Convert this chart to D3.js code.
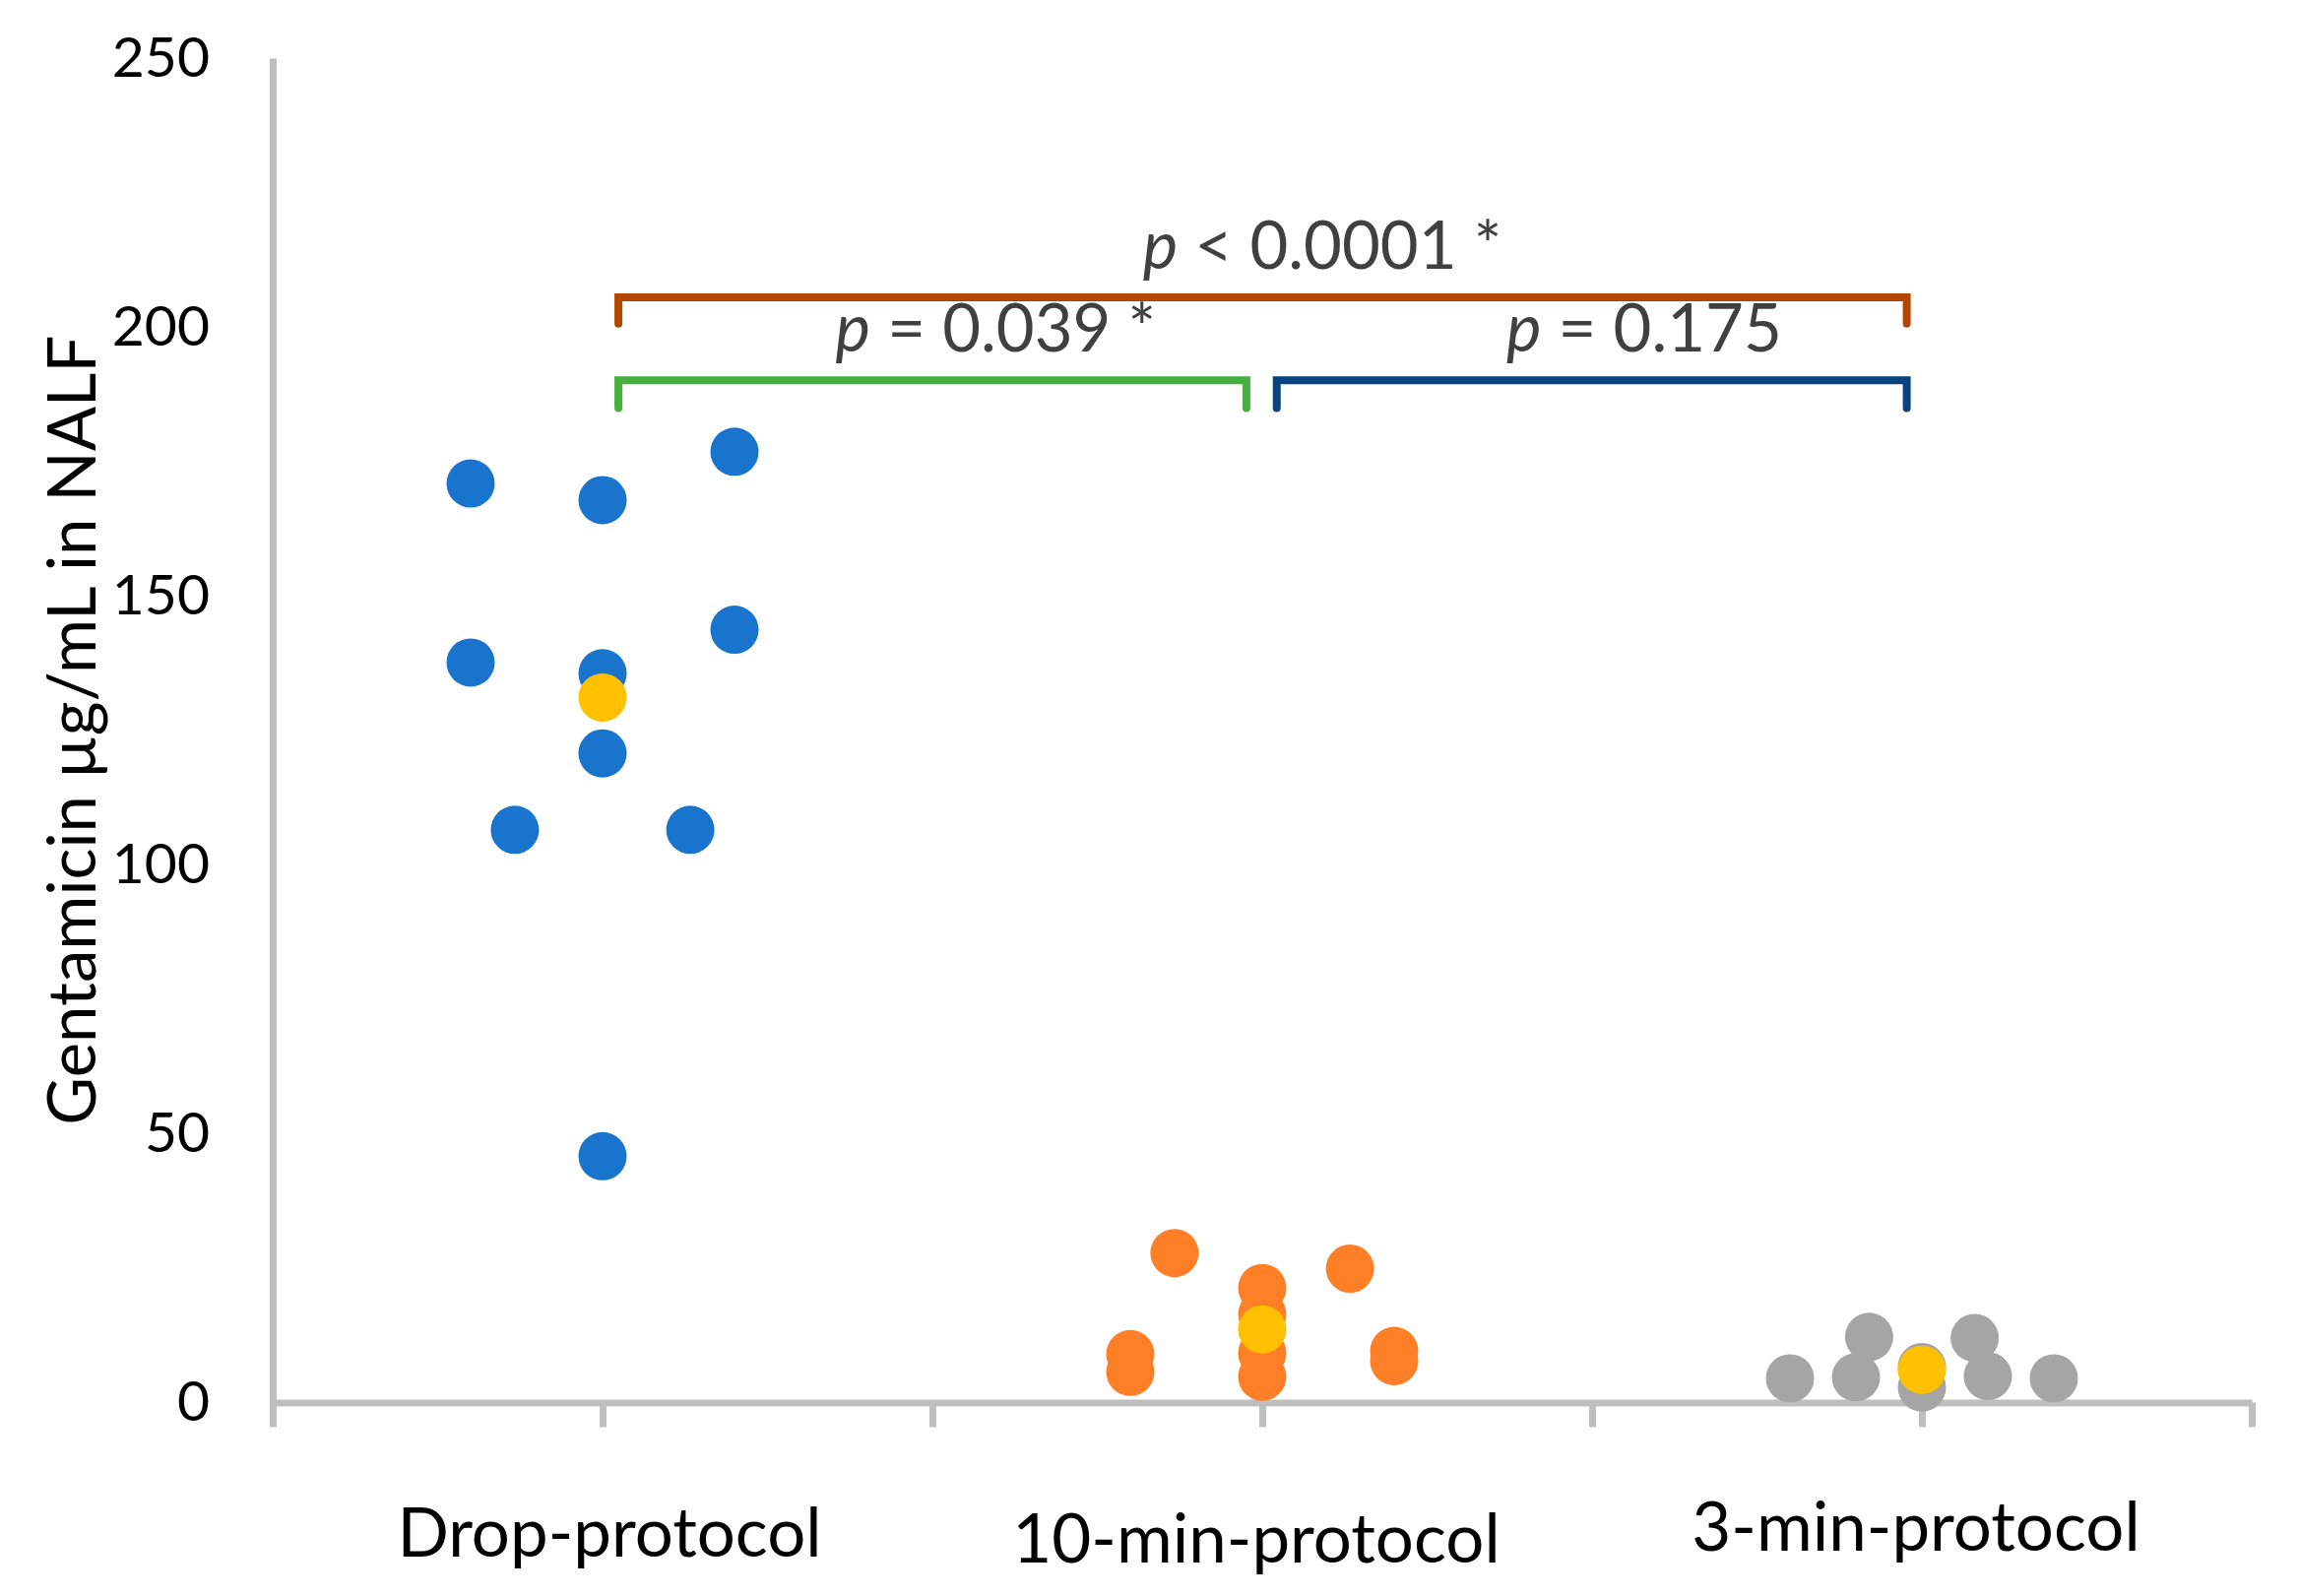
<!DOCTYPE html>
<html>
<head>
<meta charset="utf-8">
<script src="https://cdn.jsdelivr.net/npm/d3@7"></script>
<style>
  html, body { margin: 0; padding: 0; background: #fff; }
  svg { display: block; font-family: Lato, "Open Sans", sans-serif; }
</style>
</head>
<body>
<svg id="chart" width="2335" height="1621"></svg>
<script>
// ---------------- data ----------------
const categories = ["Drop-protocol", "10-min-protocol", "3-min-protocol"];
const yTicks = [0, 50, 100, 150, 200, 250];
const xTicks = [0.5, 1, 1.5, 2, 2.5, 3, 3.5];

// Drop-protocol (category 1)
const dropOffsets = [0.2, -0.2, 0, 0.2, -0.2, 0, 0, -0.133, 0.133, 0];
const dropValues  = [176.8, 170.9, 167.8, 143.7, 137.6, 135.6, 120.7, 106.5, 106.5, 45.8];

// 10-min-protocol (category 2)
const tenOffsets = [-0.133, 0, 0.133, -0.2, -0.2, 0, 0, 0, 0.2, 0.2];
const tenValues  = [27.8, 21.3, 24.9, 9.0, 5.7, 16.4, 9.2, 4.8, 9.6, 7.7];

// 3-min-protocol (category 3)
const threeOffsets = [-0.2, -0.08, -0.1, 0, 0, 0.08, 0.1, 0.2];
const threeValues  = [4.5, 12.2, 4.7, 6.6, 2.8, 12.0, 4.9, 4.5];

// highlighted (yellow) animal, one per protocol
const highlightCategories = [1, 2, 3];
const highlightValues = [131.1, 13.6, 6.1];

// significance brackets (x in category units, y in µg/mL)
const bracketX1 = [1.024, 1.024, 2.022];
const bracketX2 = [2.977, 1.976, 2.977];
const bracketTop = [205.5, 190.1, 190.1];
const bracketBottom = [200.6, 184.9, 184.9];
const pLabels = ["< 0.0001 *", "= 0.039 *", "= 0.175"];
const pLabelX = [2.091, 1.596, 2.579];
const pLabelY = [210.9, 195.4, 195.4];

// ---------------- styles ----------------
const seriesColors = ["#1874CD", "#FF7F27", "#A5A5A5"];
const highlightColor = "#FFC000";
const bracketColors = ["#B44700", "#45B03D", "#074480"];
const axisColor = "#BFBFBF";

// ---------------- layout ----------------
const svg = d3.select("#chart");
const x = d3.scaleLinear().domain([0.5, 3.5]).range([277, 2287]);
const y = d3.scaleLinear().domain([0, 250]).range([1424.5, 59]);
const r = 24.5;

// x axis
const xAxis = svg.append("g")
  .attr("transform", `translate(0,${y(0)})`)
  .call(d3.axisBottom(x).tickValues(xTicks).tickSize(25).tickSizeOuter(0).tickFormat(""));
xAxis.select(".domain").attr("stroke", axisColor).attr("stroke-width", 7);
xAxis.selectAll(".tick line").attr("stroke", axisColor).attr("stroke-width", 7);

// y axis
const yAxis = svg.append("g")
  .attr("transform", `translate(${x(0.5)},0)`)
  .call(d3.axisLeft(y).tickValues(yTicks).tickSize(0).tickSizeOuter(0).tickPadding(64));
yAxis.select(".domain").attr("stroke", axisColor).attr("stroke-width", 7);
yAxis.selectAll(".tick text")
  .attr("fill", "#000")
  .style("font-family", "Lato, 'Open Sans', sans-serif")
  .style("font-size", "57px");

// y label
svg.append("text")
  .attr("transform", `translate(97,${(y(0) + y(250)) / 2}) rotate(-90)`)
  .attr("text-anchor", "middle")
  .attr("fill", "#000")
  .style("font-size", "67px")
  .text("Gentamicin µg/mL in NALF");

// category labels
const catDx = [7, -6, -6];
const catDy = [0, 6, -6];
svg.append("g").selectAll("text")
  .data(categories)
  .join("text")
  .attr("x", (d, i) => x(i + 1) + catDx[i])
  .attr("y", (d, i) => 1581 + catDy[i])
  .attr("text-anchor", "middle")
  .attr("fill", "#000")
  .style("font-size", "69px")
  .text(d => d);

// points
const series = [
  dropOffsets.map((o, i) => ({ xv: 1 + o, v: dropValues[i] })),
  tenOffsets.map((o, i) => ({ xv: 2 + o, v: tenValues[i] })),
  threeOffsets.map((o, i) => ({ xv: 3 + o, v: threeValues[i] }))
];
series.forEach((pts, si) => {
  svg.append("g").selectAll("circle")
    .data(pts)
    .join("circle")
    .attr("cx", d => x(d.xv))
    .attr("cy", d => y(d.v))
    .attr("r", r)
    .attr("fill", seriesColors[si]);
});
svg.append("g").selectAll("circle")
  .data(highlightCategories.map((c, i) => ({ xv: c, v: highlightValues[i] })))
  .join("circle")
  .attr("cx", d => x(d.xv))
  .attr("cy", d => y(d.v))
  .attr("r", r)
  .attr("fill", highlightColor);

// brackets
const brackets = bracketX1.map((x1, i) => ({
  x1, x2: bracketX2[i], top: bracketTop[i], bottom: bracketBottom[i], color: bracketColors[i]
}));
svg.append("g").selectAll("path")
  .data(brackets)
  .join("path")
  .attr("d", d => `M${x(d.x1)},${y(d.bottom)}V${y(d.top)}H${x(d.x2)}V${y(d.bottom)}`)
  .attr("fill", "none")
  .attr("stroke", d => d.color)
  .attr("stroke-width", 8)
  .attr("stroke-linecap", "round")
  .attr("stroke-linejoin", "miter");

// p-value labels
const pText = svg.append("g").selectAll("text")
  .data(pLabels)
  .join("text")
  .attr("x", (d, i) => x(pLabelX[i]))
  .attr("y", (d, i) => y(pLabelY[i]))
  .attr("text-anchor", "middle")
  .attr("fill", "#404040")
  .style("font-size", "67px");
pText.append("tspan").style("font-style", "italic").text("p");
pText.append("tspan").text(d => " " + d);
</script>
</body>
</html>
